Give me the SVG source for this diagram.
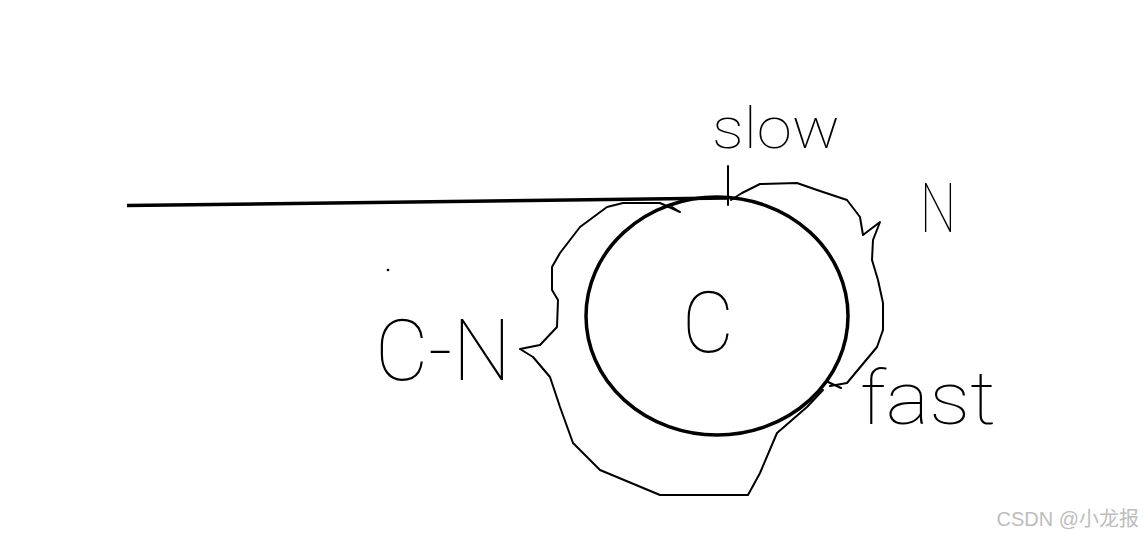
<svg xmlns="http://www.w3.org/2000/svg" width="1145" height="537" viewBox="0 0 1145 537">
<style>
.hand{font-family:Roboto,"Liberation Sans",sans-serif;font-weight:100;fill:#000}
.ink{fill:none;stroke:#000;stroke-width:2;stroke-linejoin:round;stroke-linecap:round}
.thick{fill:none;stroke:#000;stroke-width:3.5}
</style>
<rect width="1145" height="537" fill="#fff"/>
<g id="tail-line">
<path class="thick" d="M127,205.5 L728,198"/>
<path class="ink" d="M728,166 L728,205"/>
</g>
<g id="cycle">
<ellipse class="thick" cx="717" cy="316" rx="131" ry="119"/>
</g>
<g id="bracket-n">
<path class="ink" d="M731,200 L742,193 L760,184 L797,183 L817,190 L847,200 L860,217 L863,235 L880,222 L873,240 L872,260 L878,280 L883,303 L883,330 L877,347 L847,383 L830,386 M828,382 L841,388"/>
</g>
<g id="bracket-cn">
<path class="ink" d="M672,207 L680,212 L660,203 L623,203 L607,207 L580,227 L560,253 L552,267 L552,290 L558,300 L557,327 L540,345 L520,349 L533,357 L550,377 L560,407 L573,443 L600,470 L660,495 L748,495 L760,473 L777,433 L807,407 L823,390"/>
</g>
<circle cx="388" cy="270" r="1.3" fill="#000"/>
<g id="labels">
<text class="hand" x="712" y="148" font-size="58" textLength="128" lengthAdjust="spacingAndGlyphs">slow</text>
<text class="hand" x="920" y="232" font-size="68" textLength="36" lengthAdjust="spacingAndGlyphs">N</text>
<text class="hand" x="375" y="380" font-size="86" textLength="136" lengthAdjust="spacingAndGlyphs">C-N</text>
<text class="hand" x="682" y="352" font-size="86" textLength="52" lengthAdjust="spacingAndGlyphs">C</text>
<text class="hand" x="860" y="424" font-size="74" textLength="136" lengthAdjust="spacingAndGlyphs">fast</text>
</g>
<text x="1139" y="526" text-anchor="end" font-family="'Liberation Sans','Noto Sans CJK SC',sans-serif" font-size="20" fill="#bdbdbd">CSDN @小龙报</text>
</svg>
